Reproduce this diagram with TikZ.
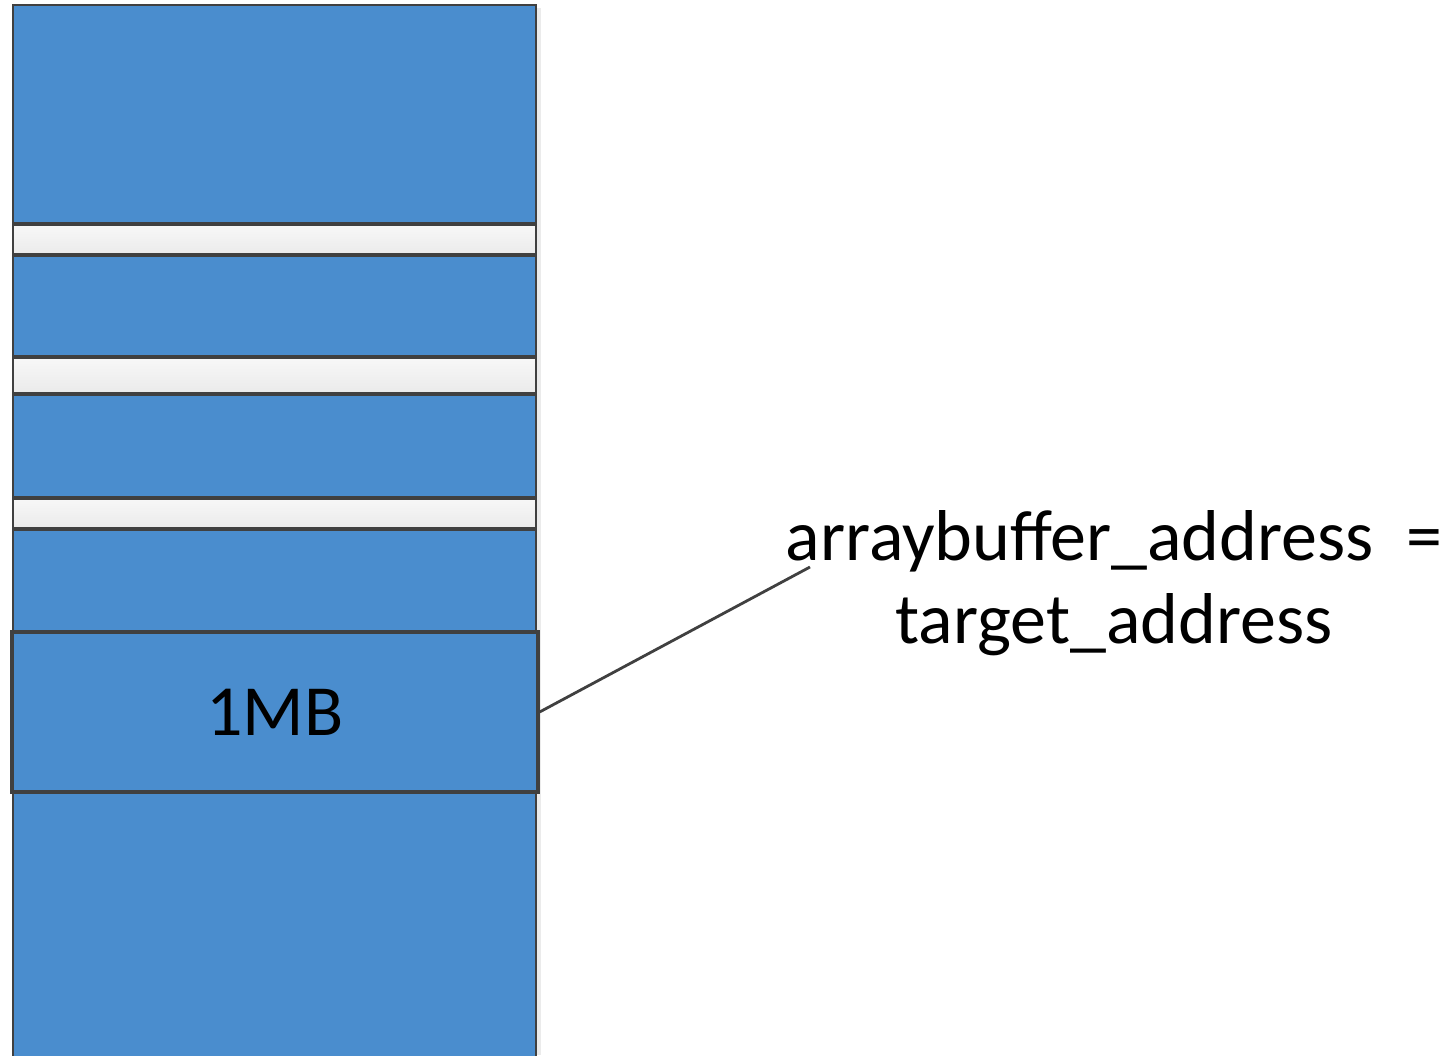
\documentclass[tikz,border=0pt]{standalone}
\usepackage{fontspec}
\setmainfont{Carlito}
\definecolor{blockblue}{HTML}{4A8DCE}
\definecolor{edgegray}{HTML}{404040}
\begin{document}
\begin{tikzpicture}[x=1pt,y=-1pt,
  blk/.style={draw=edgegray, line width=2.8pt, fill=blockblue},
  gap/.style={draw=edgegray, line width=2.8pt, top color=white!97!black, bottom color=white!92!black},
  lbl/.style={font=\fontsize{72}{83}\selectfont, text=black}]
\useasboundingbox (0,0) rectangle (1455,1055);
% faint shadow along the column's right edge
\fill[black!8] (537,8) rectangle (541,1055);
% memory column, top to bottom
\draw[blk] (13,5) rectangle (536,223);
\draw[gap] (13,225) rectangle (536,254);
\draw[blk] (13,256) rectangle (536,356);
\draw[gap] (13,358) rectangle (536,393);
\draw[blk] (13,395) rectangle (536,497);
\draw[gap] (13,499) rectangle (536,528);
\draw[blk] (13,530) rectangle (536,1058);
% highlighted 1MB region
\node[blk, line width=3.2pt, minimum width=526pt, minimum height=160pt, inner sep=0pt,
      lbl] (mb) at (275,712) {1MB};
% callout: base anchor sits on the last line's baseline
\node[lbl, align=center, anchor=base, inner sep=0pt] (note) at (1114,643)
  {arraybuffer\_address~~=\\target\_address};
\coordinate (tip) at (810,567);
\draw[edgegray, line width=2.8pt] (mb.east) -- (tip);
\end{tikzpicture}
\end{document}
